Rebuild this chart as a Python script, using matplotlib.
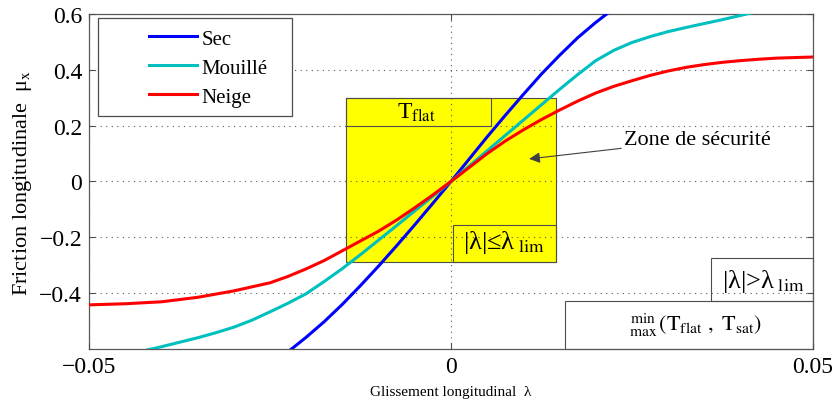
import numpy as np
import matplotlib
matplotlib.use("Agg")
import matplotlib.pyplot as plt
from matplotlib.patches import Rectangle

plt.rcParams['font.family'] = ['Liberation Serif', 'DejaVu Serif']
plt.rcParams['mathtext.fontset'] = 'stix'

# slip values and friction curves
lam_neige = [-0.05, -0.045, -0.04, -0.035, -0.03, -0.025, -0.0225, -0.02, -0.0175, -0.015,
             -0.0125, -0.01, -0.0075, -0.005, -0.0025, 0, 0.0025, 0.005, 0.0075, 0.01,
             0.0125, 0.015, 0.0175, 0.02, 0.0225, 0.025, 0.0275, 0.03, 0.0325, 0.035,
             0.0375, 0.04, 0.0425, 0.045, 0.0475, 0.05]
mu_neige = [-0.442, -0.438, -0.431, -0.415, -0.392, -0.363, -0.34, -0.313, -0.283, -0.248,
            -0.213, -0.178, -0.138, -0.094, -0.048, 0, 0.05, 0.1, 0.145, 0.185,
            0.222, 0.256, 0.288, 0.317, 0.341, 0.361, 0.38, 0.396, 0.409, 0.419,
            0.427, 0.433, 0.438, 0.442, 0.444, 0.446]

lam_mouille = [-0.045, -0.0425, -0.04, -0.0375, -0.035, -0.0325, -0.03, -0.0275, -0.025,
               -0.0225, -0.02, -0.0175, -0.015, -0.0125, -0.01, -0.0075, -0.005, -0.0025, 0,
               0.0025, 0.005, 0.0075, 0.01, 0.0125, 0.015, 0.0175, 0.02, 0.0225, 0.025,
               0.0275, 0.03, 0.0325, 0.035, 0.0375, 0.04, 0.0425, 0.045]
mu_mouille = [-0.62, -0.607, -0.592, -0.576, -0.56, -0.542, -0.522, -0.497, -0.467,
              -0.436, -0.402, -0.358, -0.312, -0.262, -0.21, -0.158, -0.105, -0.053, 0,
              0.055, 0.11, 0.165, 0.22, 0.275, 0.33, 0.383, 0.433, 0.47, 0.498,
              0.519, 0.537, 0.552, 0.566, 0.58, 0.595, 0.61, 0.625]

lam_sec = [-0.025, -0.0225, -0.02, -0.0175, -0.015, -0.0125, -0.01, -0.0075, -0.005, -0.0025, 0,
           0.0025, 0.005, 0.0075, 0.01, 0.0125, 0.015, 0.0175, 0.02, 0.0225, 0.025]
mu_sec = [-0.66, -0.61, -0.558, -0.502, -0.44, -0.373, -0.303, -0.23, -0.155, -0.078, 0,
          0.08, 0.16, 0.237, 0.312, 0.385, 0.452, 0.515, 0.57, 0.62, 0.665]

xticks = [-0.05, 0, 0.05]
xtick_labels = ['\u22120.05', '0', '0.05']
yticks = [-0.4, -0.2, 0, 0.2, 0.4, 0.6]
ytick_labels = ['\u22120.4', '\u22120.2', '0', '0.2', '0.4', '0.6']

fig = plt.figure(figsize=(8.37, 4.06), dpi=100)
ax = fig.add_axes([0.1063, 0.138, 0.865, 0.825])

# safety zone and annotation boxes
edge = '0.3'
ax.add_patch(Rectangle((-0.0145, -0.29), 0.029, 0.59, facecolor='#ffff00',
                       edgecolor=edge, lw=0.8, zorder=1))
ax.add_patch(Rectangle((-0.0145, 0.2), 0.02, 0.1, facecolor='none',
                       edgecolor=edge, lw=0.8, zorder=1.5))
ax.add_patch(Rectangle((0.0003, -0.29), 0.0142, 0.134, facecolor='none',
                       edgecolor=edge, lw=0.8, zorder=1.5))
ax.add_patch(Rectangle((0.0359, -0.428), 0.0141, 0.155, facecolor='none',
                       edgecolor=edge, lw=0.8, zorder=1.5, clip_on=False))
ax.add_patch(Rectangle((0.0157, -0.6), 0.0343, 0.172, facecolor='none',
                       edgecolor=edge, lw=0.8, zorder=1.5, clip_on=False))

ax.grid(True, which='major', linestyle=(0, (1, 4)), color='0.35', lw=0.8, zorder=1.2)
ax.set_axisbelow(False)

ax.plot(lam_sec, mu_sec, color='#0000ff', lw=2.2, label='Sec', zorder=3)
ax.plot(lam_mouille, mu_mouille, color='#00bfbf', lw=2.2, label='Mouillé', zorder=3)
ax.plot(lam_neige, mu_neige, color='#ff0000', lw=2.2, label='Neige', zorder=3)

ax.text(-0.0048, 0.25, r'T$_{\mathrm{flat}}$', fontsize=17,
        ha='center', va='center', zorder=4)
ax.text(0.0073, -0.216, r'|λ|≤λ$_{\ \mathrm{lim}}$', fontsize=19,
        ha='center', va='center', zorder=4)
ax.text(0.0431, -0.355, r'|λ|>λ$_{\ \mathrm{lim}}$', fontsize=19,
        ha='center', va='center', zorder=4)
ax.text(0.0338, -0.513,
        r'$\genfrac{}{}{0}{}{\mathrm{min}}{\mathrm{max}}(\mathrm{T}_{\mathrm{flat}}\ ,\ \mathrm{T}_{\mathrm{sat}})$',
        fontsize=16, ha='center', va='center', zorder=4)

ax.annotate('Zone de sécurité', xy=(0.0108, 0.081), xytext=(0.0239, 0.15),
            fontsize=16, ha='left', va='center',
            arrowprops=dict(arrowstyle='-|>', color='0.25', lw=0.8,
                            mutation_scale=16, shrinkA=0, shrinkB=0),
            zorder=4)

ax.set_xlim(-0.05, 0.05)
ax.set_ylim(-0.6, 0.6)
ax.set_xticks(xticks)
ax.set_xticklabels(xtick_labels)
ax.set_yticks(yticks)
ax.set_yticklabels(ytick_labels)
ax.tick_params(direction='in', length=4, width=0.8, color='0.3', labelsize=17,
               top=True, right=True, pad=5)
for s in ax.spines.values():
    s.set_color('0.35')
    s.set_linewidth(0.9)

ax.set_xlabel('Glissement longitudinal  λ', fontsize=11, labelpad=6)
ax.set_ylabel(r'Friction longitudinale  μ$_{\mathrm{x}}$', fontsize=16, labelpad=4)

# legend with a wide frame like the original
ax.add_patch(Rectangle((0.012, 0.695), 0.268, 0.293, transform=ax.transAxes,
                       facecolor='white', edgecolor='0.3', lw=0.9, zorder=5))
leg = ax.legend(loc='upper left', bbox_to_anchor=(0.072, 0.98), frameon=False,
                fontsize=15, handlelength=2.3, handletextpad=0.2, labelspacing=0.45,
                borderaxespad=0)
leg.set_zorder(6)

fig.savefig('out.png', dpi=100)
